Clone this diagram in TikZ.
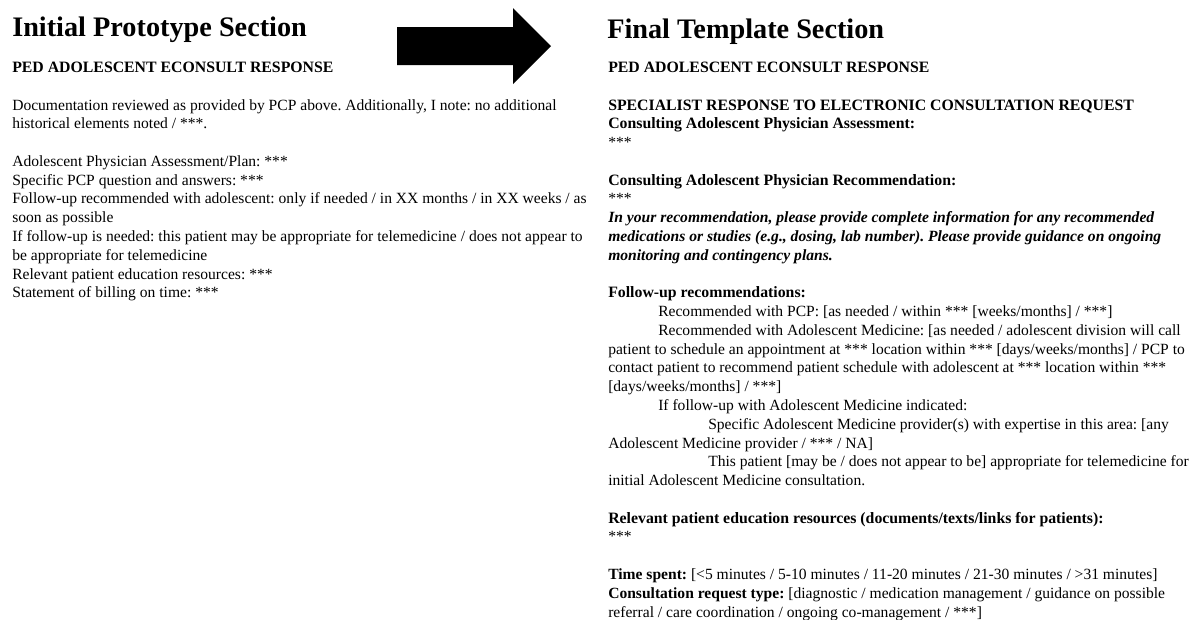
\documentclass[tikz,border=0pt]{standalone}
\usepackage{fontspec}
\setmainfont{Liberation Serif}
\usetikzlibrary{positioning}
\frenchspacing

\tikzset{
  txt/.style={anchor=base west, inner sep=0pt, font=\fontsize{11.68}{14}\selectfont},
  hdr/.style={txt, font=\fontsize{11.85}{14}\selectfont\bfseries},
  emph/.style={txt, font=\fontsize{11.7}{14}\selectfont\bfseries\itshape},
  ttl/.style={anchor=base west, inner sep=0pt, font=\fontsize{21.2}{24}\selectfont\bfseries}
}
\newcommand{\rowy}[1]{110+18.78*#1}

\begin{document}
\begin{tikzpicture}[x=0.75pt, y=-0.75pt]
\useasboundingbox (0,0) rectangle (1197,619);

% left column
\node[ttl] (titleL) at (12,36) {Initial Prototype Section};
\node[hdr] (headL) at (12,72) {PED ADOLESCENT ECONSULT RESPONSE};
\node[txt] (docA) at (12,{\rowy{0}}) {Documentation reviewed as provided by PCP above. Additionally, I note: no additional};
\node[txt] (docB) at (12,{\rowy{1}}) {historical elements noted / ***.};
\node[txt] (planL) at (12,{\rowy{3}}) {Adolescent Physician Assessment/Plan: ***};
\node[txt] (questL) at (12,{\rowy{4}}) {Specific PCP question and answers: ***};
\node[txt] (fupA) at (12,{\rowy{5}}) {Follow-up recommended with adolescent: only if needed / in XX months / in XX weeks / as};
\node[txt] (fupB) at (12,{\rowy{6}}) {soon as possible};
\node[txt] (teleA) at (12,{\rowy{7}}) {If follow-up is needed: this patient may be appropriate for telemedicine / does not appear to};
\node[txt] (teleB) at (12,{\rowy{8}}) {be appropriate for telemedicine};
\node[txt] (eduL) at (12,{\rowy{9}}) {Relevant patient education resources: ***};
\node[txt] (billL) at (12,{\rowy{10}}) {Statement of billing on time: ***};

% block arrow
\fill[black] (397,27) -- (513,27) -- (513,8) -- (551,46) -- (513,84) -- (513,65) -- (397,65) -- cycle;

% right column
\node[ttl] (titleR) at (607,38) {Final Template Section};
\node[hdr] (headR) at (608,72) {PED ADOLESCENT ECONSULT RESPONSE};
\node[hdr] (spec) at (608,{\rowy{0}}) {SPECIALIST RESPONSE TO ELECTRONIC CONSULTATION REQUEST};
\node[hdr] (assess) at (608,{\rowy{1}}) {Consulting Adolescent Physician Assessment:};
\node[txt] (assessS) at (608,{\rowy{2}}) {***};
\node[hdr] (recom) at (608,{\rowy{4}}) {Consulting Adolescent Physician Recommendation:};
\node[txt] (recomS) at (608,{\rowy{5}}) {***};
\node[emph] (noteA) at (608,{\rowy{6}}) {In your recommendation, please provide complete information for any recommended};
\node[emph] (noteB) at (608,{\rowy{7}}) {medications or studies (e.g., dosing, lab number). Please provide guidance on ongoing};
\node[emph] (noteC) at (608,{\rowy{8}}) {monitoring and contingency plans.};
\node[hdr] (fupR) at (608,{\rowy{10}}) {Follow-up recommendations:};
\node[txt] (pcp) at (658,{\rowy{11}}) {Recommended with PCP: [as needed / within *** [weeks/months] / ***]};
\node[txt] (adoA) at (658,{\rowy{12}}) {Recommended with Adolescent Medicine: [as needed / adolescent division will call};
\node[txt] (adoB) at (608,{\rowy{13}}) {patient to schedule an appointment at *** location within *** [days/weeks/months] / PCP to};
\node[txt] (adoC) at (608,{\rowy{14}}) {contact patient to recommend patient schedule with adolescent at *** location within ***};
\node[txt] (adoD) at (608,{\rowy{15}}) {[days/weeks/months] / ***]};
\node[txt] (ifad) at (658,{\rowy{16}}) {If follow-up with Adolescent Medicine indicated:};
\node[txt] (provA) at (708,{\rowy{17}}) {Specific Adolescent Medicine provider(s) with expertise in this area: [any};
\node[txt] (provB) at (608,{\rowy{18}}) {Adolescent Medicine provider / *** / NA]};
\node[txt] (teleRA) at (708,{\rowy{19}}) {This patient [may be / does not appear to be] appropriate for telemedicine for};
\node[txt] (teleRB) at (608,{\rowy{20}}) {initial Adolescent Medicine consultation.};
\node[hdr] (eduR) at (608,{\rowy{22}}) {Relevant patient education resources (documents/texts/links for patients):};
\node[txt] (eduS) at (608,{\rowy{23}}) {***};
\node[txt] (time) at (608,{\rowy{25}}) {\textbf{Time spent:} [<5 minutes / 5-10 minutes / 11-20 minutes / 21-30 minutes / >31 minutes]};
\node[txt] (typeA) at (608,{\rowy{26}}) {\textbf{Consultation request type:} [diagnostic / medication management / guidance on possible};
\node[txt] (typeB) at (608,{\rowy{27}}) {referral / care coordination / ongoing co-management / ***]};
\end{tikzpicture}
\end{document}
